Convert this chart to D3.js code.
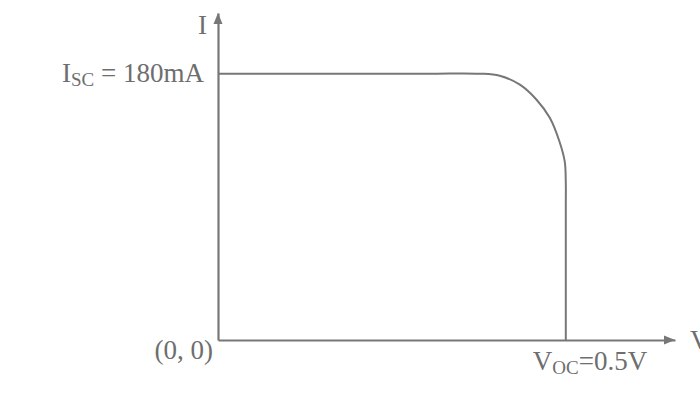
<!DOCTYPE html>
<html>
<head>
<meta charset="utf-8">
<script src="https://cdn.jsdelivr.net/npm/d3@7"></script>
<style>
  body { margin: 0; background: #fff; }
  text { font-family: "Liberation Serif", "Times New Roman", serif; fill: #6e6e6e; }
</style>
</head>
<body>
<script>
// I-V curve of the cell, volts / mA
const voltage = [0, 0.3, 0.376, 0.405, 0.434, 0.458, 0.477, 0.491, 0.4985, 0.5, 0.5, 0.5];
const current = [180, 180, 180, 178.6, 172.6, 162.4, 150.2, 134, 120.5, 106, 90, 0];

const iSC = 180;    // mA
const vOC = 0.5;    // V
const xMax = 0.657; // end of V axis
const yMax = 221;   // end of I axis

const width = 700;
const height = 401;
const color = '#777';

const svg = d3.select('body')
  .append('svg')
  .attr('width', width)
  .attr('height', height);

const x = d3.scaleLinear().domain([0, xMax]).range([218, 675]);
const y = d3.scaleLinear().domain([0, yMax]).range([340, 13]);

// axes with no ticks, just the lines
svg.append('g')
  .attr('transform', `translate(0,${y(0)})`)
  .call(d3.axisBottom(x).tickValues([]).tickSizeOuter(0))
  .select('.domain')
  .attr('stroke', color)
  .attr('stroke-width', 2.2);

svg.append('g')
  .attr('transform', `translate(${x(0)},0)`)
  .call(d3.axisLeft(y).tickValues([]).tickSizeOuter(0))
  .select('.domain')
  .attr('stroke', color)
  .attr('stroke-width', 2.2);

// arrow heads
svg.append('path')
  .attr('d', `M${x(xMax)},${y(0)} l-11,-4.5 l0,9 Z`)
  .attr('fill', color);
svg.append('path')
  .attr('d', `M${x(0)},${y(yMax)} l-4.5,11 l9,0 Z`)
  .attr('fill', color);

// curve
const pts = voltage.map((v, i) => [v, current[i]]);
const line = d3.line()
  .x(d => x(d[0]))
  .y(d => y(d[1]))
  .curve(d3.curveCatmullRom.alpha(0.5));

svg.append('path')
  .datum(pts)
  .attr('d', line)
  .attr('fill', 'none')
  .attr('stroke', color)
  .attr('stroke-width', 2);

// labels
const big = 27, small = 19;

svg.append('text')
  .attr('x', x(0) - 11)
  .attr('y', y(yMax) + 21)
  .attr('text-anchor', 'end')
  .style('font-size', big + 'px')
  .text('I');

svg.append('text')
  .attr('x', x(xMax) + 15)
  .attr('y', y(0) + 9)
  .style('font-size', big + 'px')
  .text('V');

const isc = svg.append('text')
  .attr('x', x(0) - 14)
  .attr('y', y(iSC) + 8)
  .attr('text-anchor', 'end')
  .style('font-size', big + 'px');
isc.append('tspan').text('I');
isc.append('tspan').attr('dy', 4).style('font-size', small + 'px').text('SC');
isc.append('tspan').attr('dy', -4).text(` = ${iSC}mA`);

const voc = svg.append('text')
  .attr('x', x(vOC) - 33)
  .attr('y', y(0) + 30)
  .style('font-size', big + 'px');
voc.append('tspan').text('V');
voc.append('tspan').attr('dy', 4).style('font-size', small + 'px').text('OC');
voc.append('tspan').attr('dy', -4).text(`=${vOC}V`);

svg.append('text')
  .attr('x', x(0) - 5)
  .attr('y', y(0) + 19)
  .attr('text-anchor', 'end')
  .style('font-size', big + 'px')
  .text('(0, 0)');
</script>
</body>
</html>
